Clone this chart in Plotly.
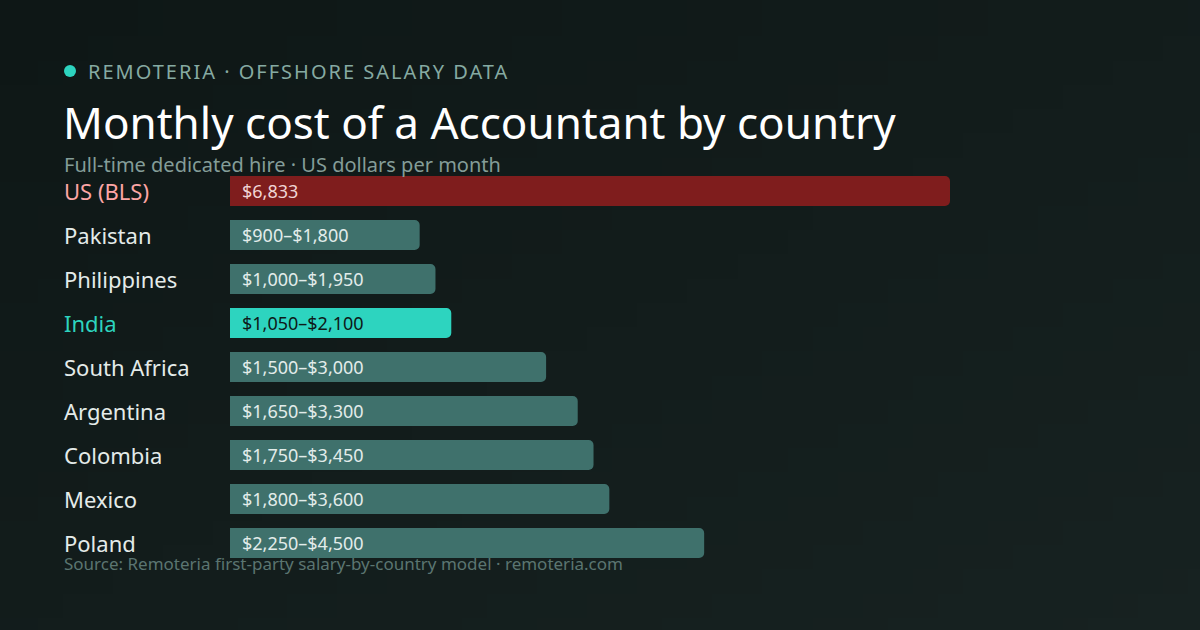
import base64
import struct
import zlib

import plotly.graph_objects as go

countries = ["US (BLS)", "Pakistan", "Philippines", "India", "South Africa",
             "Argentina", "Colombia", "Mexico", "Poland"]
low_usd = [None, 900, 1000, 1050, 1500, 1650, 1750, 1800, 2250]
high_usd = [6833, 1800, 1950, 2100, 3000, 3300, 3450, 3600, 4500]

kicker = "REMOTERIA · OFFSHORE SALARY DATA"
title = "Monthly cost of a Accountant by country"
subtitle = "Full-time dedicated hire · US dollars per month"
source = "Source: Remoteria first-party salary-by-country model · remoteria.com"

W, H = 1200, 630
ML, MR, MT, MB = 230, 50, 169, 65
plot_w = W - ML - MR
plot_h = H - MT - MB
x_max = plot_w * high_usd[0] / 720.0

FONT = "Noto Sans"
BG = "#121b1b"
BAR = "#3f716c"
US_BAR = "#7f1d1d"
INDIA = "#2dd4bf"


def gradient_png(w, h, c0, c1):
    rows = b""
    for j in range(h):
        row = b"\x00"
        for i in range(w):
            t = (i / (w - 1) + j / (h - 1)) / 2
            row += bytes(int(round(a + (b - a) * t)) for a, b in zip(c0, c1))
        rows += row

    def chunk(tag, data):
        c = tag + data
        return struct.pack(">I", len(data)) + c + struct.pack(">I", zlib.crc32(c) & 0xffffffff)

    png = b"\x89PNG\r\n\x1a\n"
    png += chunk(b"IHDR", struct.pack(">IIBBBBB", w, h, 8, 2, 0, 0, 0))
    png += chunk(b"IDAT", zlib.compress(rows))
    png += chunk(b"IEND", b"")
    return "data:image/png;base64," + base64.b64encode(png).decode()


def py(p):
    return 1 - (p - MT) / plot_h


def px(p):
    return (p - ML) / plot_w


def fmt(v):
    return "${:,}".format(v)


labels = []
colors = []
for c, lo, hi in zip(countries, low_usd, high_usd):
    labels.append(fmt(hi) if lo is None else f"{fmt(lo)}–{fmt(hi)}")
    if c == "US (BLS)":
        colors.append(US_BAR)
    elif c == "India":
        colors.append(INDIA)
    else:
        colors.append(BAR)

fig = go.Figure()
fig.add_trace(go.Bar(
    y=countries, x=high_usd, orientation="h",
    marker=dict(color=colors, line=dict(width=0)),
    width=0.68, hoverinfo="skip", showlegend=False,
))

annotations = []
for c, lab in zip(countries, labels):
    tcol = "#0e1a19" if c == "India" else ("#f0d4d4" if c == "US (BLS)" else "#e2ecea")
    annotations.append(dict(x=0, y=c, xref="x", yref="y", text=lab, showarrow=False,
                            xanchor="left", yanchor="middle", xshift=10,
                            font=dict(family=FONT, size=18, color=tcol)))
    lcol = "#fca5a5" if c == "US (BLS)" else (INDIA if c == "India" else "#e4ebe9")
    annotations.append(dict(x=px(62), y=c, xref="paper", yref="y", text=c, showarrow=False,
                            xanchor="left", yanchor="middle",
                            font=dict(family=FONT, size=22, color=lcol)))

annotations += [
    dict(x=px(87), y=py(72), xref="paper", yref="paper", text=kicker, showarrow=False,
         xanchor="left", yanchor="middle", xshift=31,
         font=dict(family=FONT, size=20, color="#86aaa2")),
    dict(x=px(61), y=py(122), xref="paper", yref="paper", text=title, showarrow=False,
         xanchor="left", yanchor="middle",
         font=dict(family=FONT, size=44, color="#ffffff")),
    dict(x=px(62), y=py(165), xref="paper", yref="paper", text=subtitle, showarrow=False,
         xanchor="left", yanchor="middle",
         font=dict(family=FONT, size=20, color="#849d98")),
    dict(x=px(62), y=py(563), xref="paper", yref="paper", text=source, showarrow=False,
         xanchor="left", yanchor="middle",
         font=dict(family=FONT, size=17, color="#5b7571")),
]

shapes = [dict(type="circle", xref="paper", yref="paper",
               x0=px(64), x1=px(76), y0=py(65), y1=py(77),
               fillcolor=INDIA, line=dict(width=0))]

images = [dict(source=gradient_png(48, 26, (14, 23, 22), (23, 34, 33)),
               xref="paper", yref="paper", x=px(0), y=py(0),
               sizex=W / plot_w, sizey=H / plot_h, sizing="stretch",
               xanchor="left", yanchor="top", layer="below")]

fig.update_layout(
    width=W, height=H,
    margin=dict(l=ML, r=MR, t=MT, b=MB),
    paper_bgcolor=BG, plot_bgcolor="rgba(0,0,0,0)",
    barcornerradius=5,
    xaxis=dict(range=[0, x_max], visible=False, fixedrange=True),
    yaxis=dict(categoryorder="array", categoryarray=countries, autorange="reversed",
               showticklabels=False, showgrid=False, zeroline=False, fixedrange=True),
    annotations=annotations, shapes=shapes, images=images,
    font=dict(family=FONT),
)

post = """
document.body.style.margin='0';
document.body.style.overflow='hidden';
document.querySelectorAll('.annotation-text').forEach(function(t){
  if (t.textContent.indexOf('REMOTERIA') === 0) { t.style.letterSpacing = '2px'; }
});
"""

fig.write_html("out.html", config={"displayModeBar": False}, post_script=post)
